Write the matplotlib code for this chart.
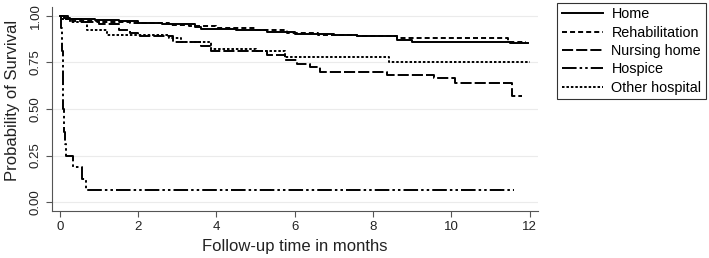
# Kaplan-Meier survival curves by discharge destination

import matplotlib
matplotlib.use("Agg")
import matplotlib.pyplot as plt

plt.rcParams['font.family'] = ['Liberation Sans', 'DejaVu Sans']
plt.rcParams['lines.scale_dashes'] = False

# Step 1: survival step data (time in months, survival probability)
home_t = [0, 0.1, 0.25, 0.9, 1.5, 2.0, 2.6, 3.45, 3.6, 4.5, 5.3, 6.0, 7.0, 7.6, 8.6, 9.0, 11.5, 11.95]
home_s = [1.0, 0.99, 0.985, 0.978, 0.97, 0.962, 0.955, 0.94, 0.93, 0.922, 0.913, 0.905, 0.898, 0.89, 0.87, 0.86, 0.855, 0.855]

rehab_t = [0, 0.12, 0.3, 1.0, 1.8, 2.8, 3.3, 4.0, 5.0, 5.8, 6.6, 7.6, 8.6, 11.45, 11.9]
rehab_s = [1.0, 0.985, 0.975, 0.965, 0.96, 0.952, 0.945, 0.935, 0.922, 0.91, 0.9, 0.893, 0.88, 0.862, 0.862]

nursing_t = [0, 0.2, 0.6, 1.0, 1.5, 1.8, 2.0, 2.9, 3.6, 3.85, 5.3, 5.75, 6.05, 6.4, 6.65, 8.35, 9.55, 10.1, 11.55, 11.8]
nursing_s = [1.0, 0.985, 0.965, 0.955, 0.925, 0.91, 0.89, 0.86, 0.84, 0.81, 0.79, 0.765, 0.74, 0.725, 0.70, 0.685, 0.665, 0.64, 0.57, 0.57]

hospice_t = [0, 0.03, 0.05, 0.07, 0.09, 0.11, 0.13, 0.16, 0.33, 0.56, 0.68, 11.6]
hospice_s = [1.0, 0.9375, 0.8125, 0.625, 0.5, 0.375, 0.3125, 0.25, 0.1875, 0.125, 0.0625, 0.0625]

other_t = [0, 0.05, 0.25, 0.7, 1.2, 2.8, 3.1, 3.85, 5.0, 5.75, 8.4, 12.0]
other_s = [1.0, 0.985, 0.965, 0.925, 0.90, 0.88, 0.86, 0.82, 0.81, 0.78, 0.755, 0.755]

labels = ["Home", "Rehabilitation", "Nursing home", "Hospice", "Other hospital"]
yticks = [0.0, 0.25, 0.5, 0.75, 1.0]
xticks = [0, 2, 4, 6, 8, 10, 12]

# Step 2: figure
fig = plt.figure(figsize=(7.09, 2.58), dpi=100)
ax = fig.add_axes([0.0733, 0.182, 0.686, 0.791])

lw = 1.4
ax.step(home_t, home_s, where='post', color='black', lw=lw, linestyle='-', label=labels[0])
ax.step(rehab_t, rehab_s, where='post', color='black', lw=lw, linestyle=(0, (3.6, 2.2)), label=labels[1])
ax.step(nursing_t, nursing_s, where='post', color='black', lw=lw, linestyle=(0, (8, 2.2)), label=labels[2])
ax.step(hospice_t, hospice_s, where='post', color='black', lw=lw,
        linestyle=(0, (10.5, 2.2, 1.8, 2.2, 1.8, 2.2)), label=labels[3])
ax.step(other_t, other_s, where='post', color='black', lw=lw, linestyle=(0, (1.8, 1.4)), label=labels[4])

# Step 3: axes styling
ax.set_xlim(-0.2, 12.22)
ax.set_ylim(-0.048, 1.048)
ax.set_xticks(xticks)
ax.set_yticks(yticks)
ax.set_yticklabels(["%.2f" % v for v in yticks], rotation=90, va='center')
ax.tick_params(colors='#555555', labelcolor='#222222', labelsize=9.5, length=4, width=0.8)
for s in ['top', 'right']:
    ax.spines[s].set_visible(False)
for s in ['left', 'bottom']:
    ax.spines[s].set_color('#555555')
    ax.spines[s].set_linewidth(0.8)
ax.grid(axis='y', color='#ebebeb', lw=0.8)
ax.set_axisbelow(True)

ax.set_xlabel("Follow-up time in months", fontsize=12, color='#222222')
ax.set_ylabel("Probability of Survival", fontsize=12, color='#222222')
ax.yaxis.set_label_coords(-0.065, 0.54)

leg = fig.legend(loc='upper left', bbox_to_anchor=(0.786, 0.988), fontsize=10.4,
                 frameon=True, fancybox=False, handlelength=2.85, handletextpad=0.6,
                 borderpad=0.3, labelspacing=0.3, borderaxespad=0)
leg.get_frame().set_edgecolor('black')
leg.get_frame().set_linewidth(0.8)

fig.savefig("out.png", dpi=100)
